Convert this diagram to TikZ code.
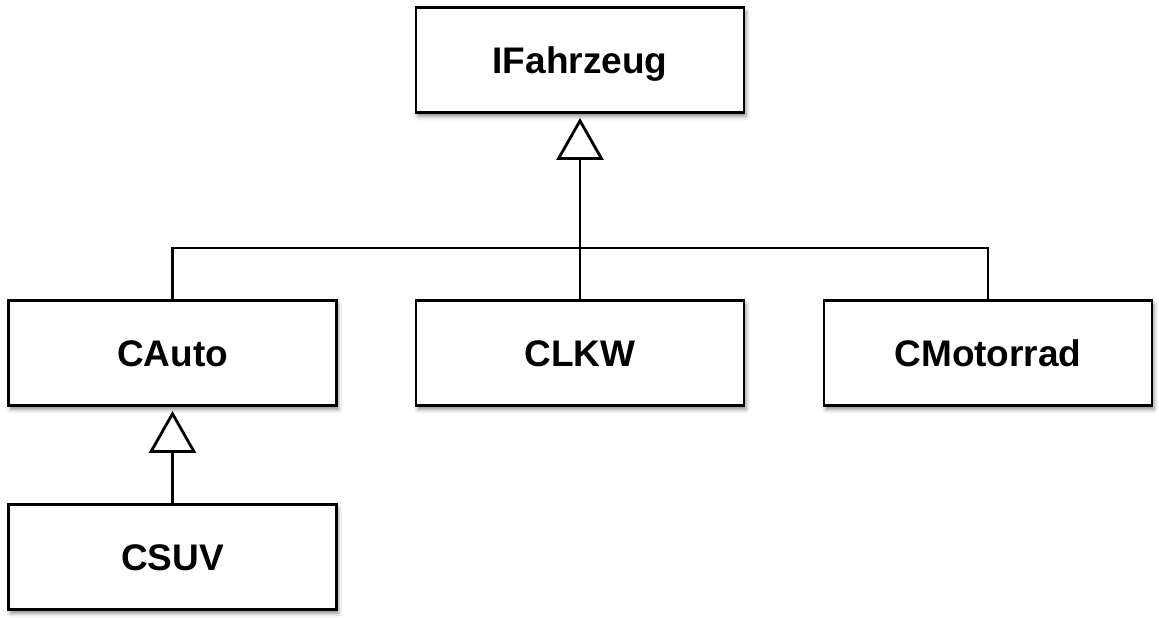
\documentclass[tikz,border=0pt]{standalone}
\usepackage{fontspec}
\setmainfont{Liberation Sans}
\usetikzlibrary{arrows.meta,shadows.blur}
\begin{document}
\begin{tikzpicture}[x=1pt,y=-1pt,
  cls/.style={draw=black, line width=2.8pt, fill=white, minimum width=328pt, minimum height=105pt,
    inner sep=0pt, text height=26.5pt, text depth=0pt, font=\fontsize{37}{40}\selectfont\bfseries,
    blur shadow={shadow xshift=2pt, shadow yshift=-4pt, shadow blur radius=4pt, shadow opacity=45}},
  conn/.style={draw=black, line width=2.8pt},
  inh/.style={conn, -{Triangle[open, length=42pt, width=47pt, line width=2.8pt]}}]
\useasboundingbox (0,0) rectangle (1159,618);
\node[cls] (ifz) at (580,60) {IFahrzeug};
\node[cls] (auto) at (172.5,353) {CAuto};
\node[cls] (lkw) at (580,353) {CLKW};
\node[cls] (moto) at (988,353) {CMotorrad};
\node[cls] (suv) at (172.5,557) {CSUV};
\coordinate (bus) at (580,248);
\draw[conn] (auto.north) |- (bus) -| (moto.north);
\draw[inh] (lkw.north) -- ([yshift=-4pt]ifz.south);
\draw[inh] (suv.north) -- ([yshift=-4pt]auto.south);
\end{tikzpicture}
\end{document}
